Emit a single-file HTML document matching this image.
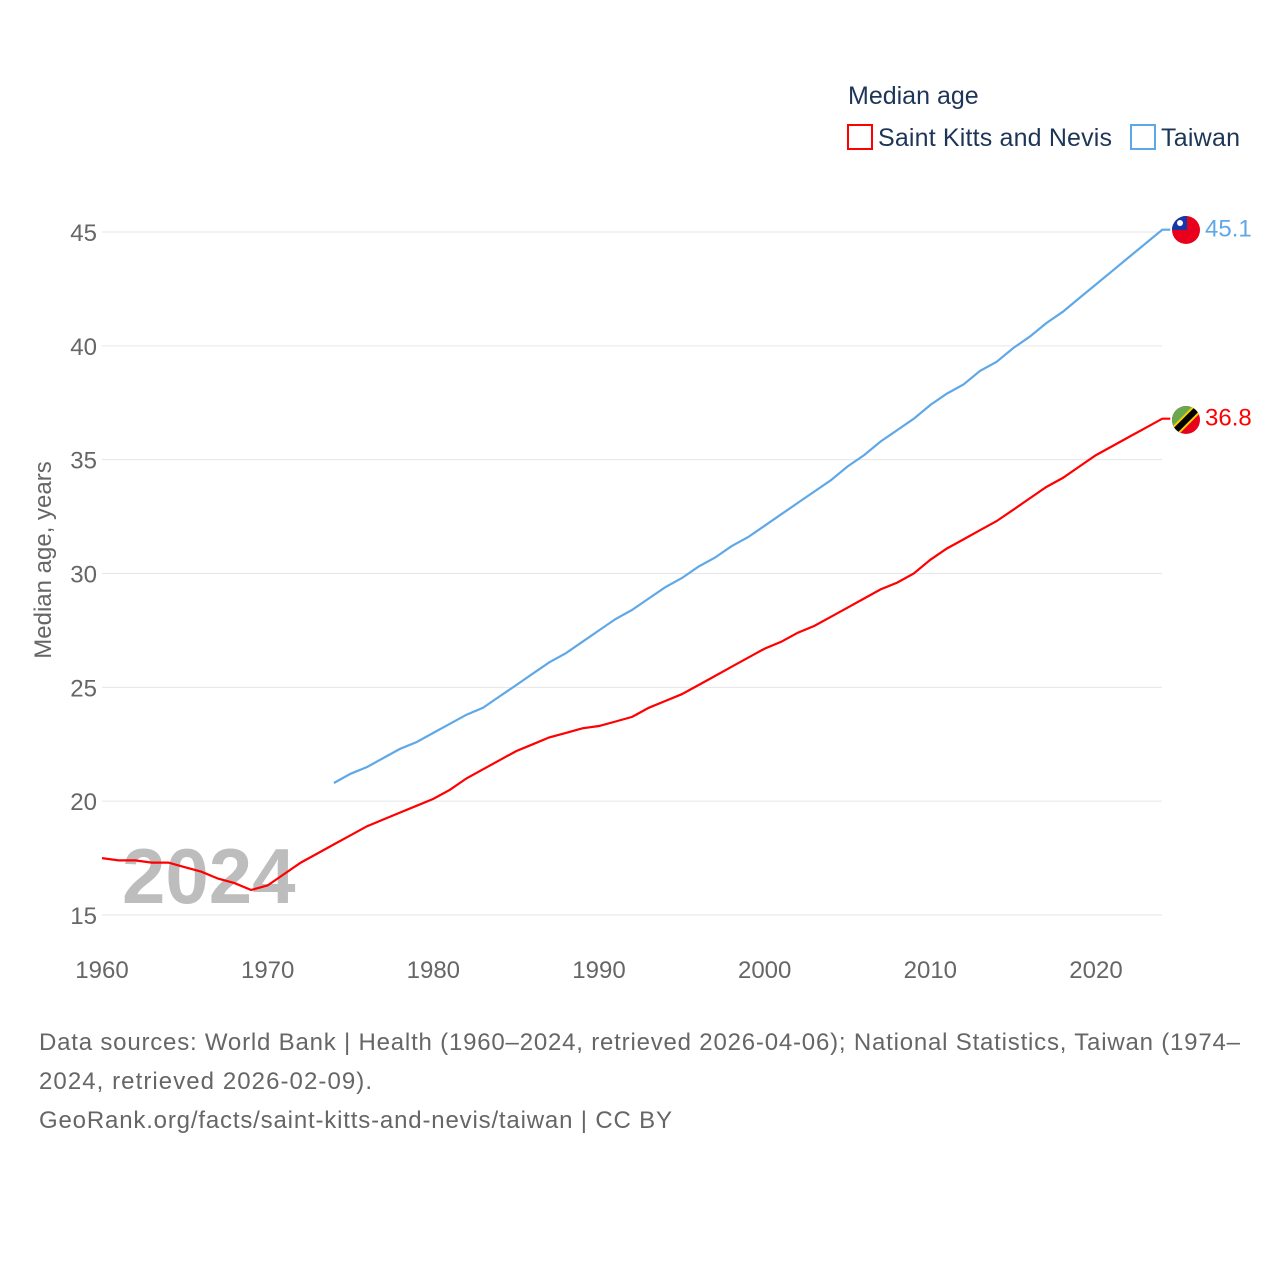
<!DOCTYPE html>
<html><head><meta charset="utf-8"><style>
body{margin:0;background:#fff;font-family:"Liberation Sans",sans-serif}
svg text{font-family:"Liberation Sans",sans-serif}
</style></head><body>
<svg id="chart" width="1280" height="1280" viewBox="0 0 1280 1280">
<defs>
<clipPath id="c1"><circle cx="1186" cy="230" r="14"/></clipPath>
<clipPath id="c2"><circle cx="1186" cy="420" r="14"/></clipPath>
</defs>
<text x="848" y="104" font-size="25" fill="#1d3557">Median age</text>
<g><rect x="848" y="125" width="24" height="24" fill="none" stroke="#f00" stroke-width="2"/><text x="878" y="146" font-size="25" fill="#1d3557" textLength="234">Saint Kitts and Nevis</text></g>
<g><rect x="1131" y="125" width="24" height="24" fill="none" stroke="#5fa8e8" stroke-width="2"/><text x="1161" y="146" font-size="25" fill="#1d3557" textLength="79">Taiwan</text></g>
<g id="grid"></g>
<g id="yticks"></g>
<g id="xticks"></g>
<text transform="translate(51,560) rotate(-90)" text-anchor="middle" font-size="24" fill="#666">Median age, years</text>
<text x="122" y="903" font-size="78" font-weight="bold" fill="#bdbdbd">2024</text>
<g id="series"></g>
<g clip-path="url(#c1)"><rect x="1172" y="216" width="28" height="28" fill="#e8001c"/><rect x="1172" y="216" width="15" height="14" fill="#1438a8"/><circle cx="1180" cy="223" r="3" fill="#fff"/></g>
<g clip-path="url(#c2)"><rect x="1172" y="406" width="28" height="28" fill="#e8001c"/><polygon points="1172,406 1200,406 1172,434" fill="#6aa84f"/><line x1="1200" y1="406" x2="1172" y2="434" stroke="#f5d000" stroke-width="10"/><line x1="1200" y1="406" x2="1172" y2="434" stroke="#000" stroke-width="6"/></g>
<text font-size="24" fill="#666"><tspan x="39" y="1050" textLength="1201">Data sources: World Bank | Health (1960–2024, retrieved 2026-04-06); National Statistics, Taiwan (1974–</tspan><tspan x="39" y="1089" textLength="333">2024, retrieved 2026-02-09).</tspan><tspan x="39" y="1128" textLength="633">GeoRank.org/facts/saint-kitts-and-nevis/taiwan | CC BY</tspan></text>
</svg>
<script>
const yTicks=[15,20,25,30,35,40,45];
const xTicks=[1960,1970,1980,1990,2000,2010,2020];
const skYears=[1960,1961,1962,1963,1964,1965,1966,1967,1968,1969,1970,1971,1972,1973,1974,1975,1976,1977,1978,1979,1980,1981,1982,1983,1984,1985,1986,1987,1988,1989,1990,1991,1992,1993,1994,1995,1996,1997,1998,1999,2000,2001,2002,2003,2004,2005,2006,2007,2008,2009,2010,2011,2012,2013,2014,2015,2016,2017,2018,2019,2020,2021,2022,2023,2024];
const skValues=[17.5,17.4,17.4,17.3,17.3,17.1,16.9,16.6,16.4,16.1,16.3,16.8,17.3,17.7,18.1,18.5,18.9,19.2,19.5,19.8,20.1,20.5,21.0,21.4,21.8,22.2,22.5,22.8,23.0,23.2,23.3,23.5,23.7,24.1,24.4,24.7,25.1,25.5,25.9,26.3,26.7,27.0,27.4,27.7,28.1,28.5,28.9,29.3,29.6,30.0,30.6,31.1,31.5,31.9,32.3,32.8,33.3,33.8,34.2,34.7,35.2,35.6,36.0,36.4,36.8];
const twYears=skYears.slice(14);
const twValues=[20.8,21.2,21.5,21.9,22.3,22.6,23.0,23.4,23.8,24.1,24.6,25.1,25.6,26.1,26.5,27.0,27.5,28.0,28.4,28.9,29.4,29.8,30.3,30.7,31.2,31.6,32.1,32.6,33.1,33.6,34.1,34.7,35.2,35.8,36.3,36.8,37.4,37.9,38.3,38.9,39.3,39.9,40.4,41.0,41.5,42.1,42.7,43.3,43.9,44.5,45.1];
const xs=y=>102+(y-1960)*(994/60);
const ys=v=>915-(v-15)*(683/30);
const NS="http://www.w3.org/2000/svg";
function mk(t,a,p){const e=document.createElementNS(NS,t);for(const k in a)e.setAttribute(k,a[k]);p.appendChild(e);return e;}
const grid=document.getElementById('grid'),yt=document.getElementById('yticks'),xt=document.getElementById('xticks'),ser=document.getElementById('series');
yTicks.forEach(v=>{
 const l=mk('line',{x1:102,x2:1162,y1:ys(v),y2:ys(v),stroke:'#e6e6e6','stroke-width':1},grid);
 
 
 const t=mk('text',{x:97,y:ys(v)+9,'text-anchor':'end','font-size':24,fill:'#666'},yt);t.textContent=v;
 
 
});
xTicks.forEach(v=>{
 const t=mk('text',{x:xs(v),y:978,'text-anchor':'middle','font-size':24,fill:'#666'},xt);t.textContent=v;
 
 
});
function line(years,vals,col,name){
 let d=years.map((y,i)=>(i?'L':'M')+xs(y).toFixed(1)+','+ys(vals[i]).toFixed(1)).join(' ');
 const last=vals[vals.length-1];
 d+=' L'+(xs(years[years.length-1])+8)+','+ys(last).toFixed(1);
 const p=mk('path',{d:d,fill:'none',stroke:col,'stroke-width':2.2},ser);
 
 
 const yy=ys(last);
 const t=mk('text',{x:1205,y:yy+7,'font-size':24,fill:col},ser);t.textContent=last.toFixed(1);
 
 
}
line(skYears,skValues,'#ff0000','saint-kitts');
line(twYears,twValues,'#5fa8e8','taiwan');
</script>
</body></html>
